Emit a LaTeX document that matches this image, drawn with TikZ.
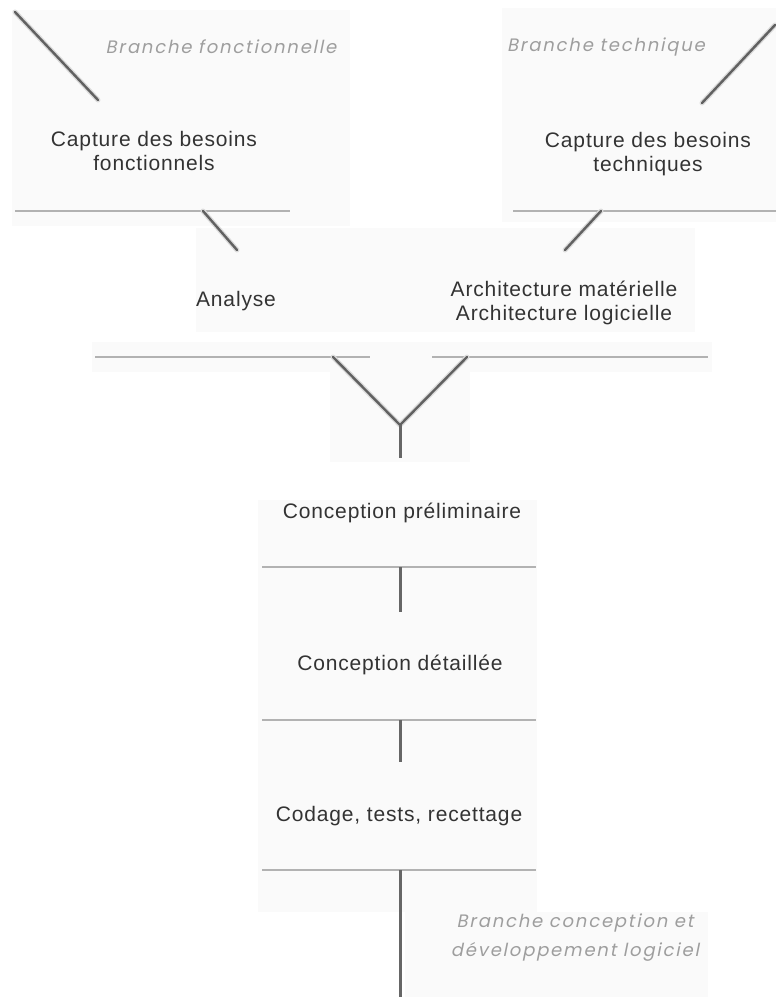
\documentclass[tikz,border=0pt]{standalone}
\usepackage{fontspec}
\setmainfont[LetterSpace=4]{Liberation Sans}
\newfontfamily\branchfont[FakeSlant=0.2,LetterSpace=10]{Poppins}
\begin{document}
\begin{tikzpicture}[x=1pt,y=-1pt,
  panel/.style={fill=black!2,draw=none},
  phase/.style={font=\fontsize{21}{24}\selectfont, text=black!80, align=center, inner sep=0pt, anchor=north},
  branch/.style={font=\branchfont\fontsize{18}{29}\selectfont, text=black!38, align=center, inner sep=0pt},
  flowshade/.style={draw=black!14, line width=5pt, line cap=round},
  flowline/.style={draw=black!62, line width=2.4pt, line cap=round},
  rule/.style={draw=black!30, line width=1.4pt},
  stem/.style={draw=black!60, line width=3pt}]
\useasboundingbox (0,0) rectangle (776,997);
\fill[white] (0,0) rectangle (776,997);

% faint backdrops behind each stage
\fill[panel] (12,10) rectangle (350,226);
\fill[panel] (502,8) rectangle (776,222);
\fill[panel] (196,228) rectangle (695,332);
\fill[panel] (92,342) rectangle (712,372);
\fill[panel] (330,342) rectangle (470,462);
\fill[panel] (258,500) rectangle (537,912);
\fill[panel] (405,912) rectangle (708,997);

% end points of the branch strokes
\coordinate (fTop) at (15,12);   \coordinate (fEnd) at (98,100);
\coordinate (fLowA) at (203,211); \coordinate (fLowB) at (237,250);
\coordinate (tTop) at (775,25);  \coordinate (tEnd) at (702,103);
\coordinate (tLowA) at (601,211); \coordinate (tLowB) at (565,250);
\coordinate (yL) at (333,357); \coordinate (yR) at (467,357);
\coordinate (yJ) at (400,425); \coordinate (yS) at (400,458);

% separating rules
\coordinate (r1a) at (15,211);  \coordinate (r1b) at (290,211);
\coordinate (r2a) at (513,211); \coordinate (r2b) at (776,211);
\coordinate (r3a) at (95,357);  \coordinate (r3b) at (370,357);
\coordinate (r4a) at (432,357); \coordinate (r4b) at (708,357);
\coordinate (r5a) at (262,567); \coordinate (r5b) at (536,567);
\coordinate (r6a) at (262,720); \coordinate (r6b) at (536,720);
\coordinate (r7a) at (262,870); \coordinate (r7b) at (536,870);
\coordinate (s5) at (400,567); \coordinate (s5e) at (400,612);
\coordinate (s6) at (400,720); \coordinate (s6e) at (400,762);
\coordinate (s7) at (400,870); \coordinate (s7e) at (400,997);

\foreach \a/\b in {r1a/r1b,r2a/r2b,r3a/r3b,r4a/r4b,r5a/r5b,r6a/r6b,r7a/r7b}
  \draw[rule] (\a) -- (\b);

% branch strokes
\foreach \a/\b in {fTop/fEnd,fLowA/fLowB,tTop/tEnd,tLowA/tLowB,yL/yJ,yR/yJ}
  \draw[flowshade] (\a) -- (\b);
\foreach \a/\b in {fTop/fEnd,fLowA/fLowB,tTop/tEnd,tLowA/tLowB,yL/yJ,yR/yJ}
  \draw[flowline] (\a) -- (\b);
\draw[stem] (yJ) -- (yS);
\draw[stem] (s5) -- (s5e);
\draw[stem] (s6) -- (s6e);
\draw[stem] (s7) -- (s7e);

% branch titles
\node[branch] (bf) at (221,47) {Branche fonctionnelle};
\node[branch] (bt) at (606,47) {Branche technique};
\node[branch] (bc) at (575,938) {Branche conception et\\développement logiciel};

% stages
\node[phase] (cbf) at (154,131.5) {Capture des besoins\\fonctionnels};
\node[phase] (cbt) at (648,132.5) {Capture des besoins\\techniques};
\node[phase] (ana) at (236,291.5) {Analyse};
\node[phase] (arc) at (564,280.5) {Architecture matérielle\\Architecture logicielle};
\node[phase] (cpr) at (402,502.5) {Conception préliminaire};
\node[phase] (cde) at (400,654.5) {Conception détaillée};
\node[phase] (cod) at (399,806.5) {Codage, tests, recettage};
\end{tikzpicture}
\end{document}
